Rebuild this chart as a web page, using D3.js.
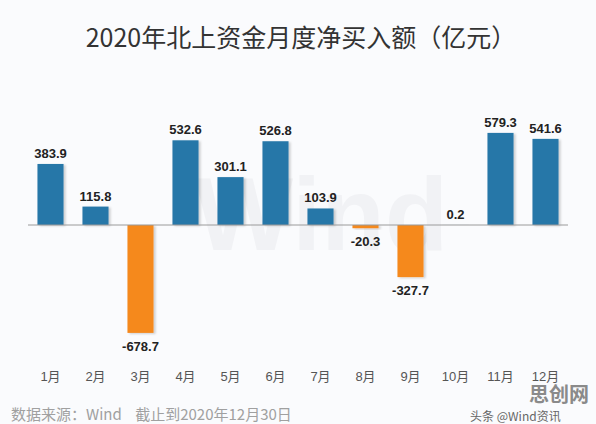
<!DOCTYPE html>
<html>
<head>
<meta charset="utf-8">
<script src="https://cdn.jsdelivr.net/npm/d3@7"></script>
<style>
  html, body { margin: 0; padding: 0; background: #fafbfd; }
  svg { display: block; font-family: "Liberation Sans", Arial, "Noto Sans CJK SC", sans-serif; }
</style>
</head>
<body>
<svg class="chart" width="596" height="424"></svg>
<script>
var months = ['1月', '2月', '3月', '4月', '5月', '6月', '7月', '8月', '9月', '10月', '11月', '12月'];
var netBuy = [383.9, 115.8, -678.7, 532.6, 301.1, 526.8, 103.9, -20.3, -327.7, 0.2, 579.3, 541.6];

var baseY = 225;
var pxPerUnit = 0.159;
var blueColor = '#2677a8';
var orangeColor = '#f5891e';
var labelColor = '#222';

var svg = d3.select('.chart');

var xScale = d3.scaleBand()
    .domain(months)
    .range([28, 568])
    .paddingInner(0.42)
    .paddingOuter(0.21);

var yScale = d3.scaleLinear()
    .domain([-700, 600])
    .range([baseY + 700 * pxPerUnit, baseY - 600 * pxPerUnit]);

var data = months.map(function(m, i) {
    return { month: m, value: netBuy[i] };
});

// soft shadow on bars
var defs = svg.append('defs');
var filter = defs.append('filter')
    .attr('id', 'shadow')
    .attr('x', '-20%').attr('y', '-20%')
    .attr('width', '150%').attr('height', '150%');
filter.append('feDropShadow')
    .attr('dx', 2).attr('dy', 1)
    .attr('stdDeviation', 1.2)
    .attr('flood-color', '#000')
    .attr('flood-opacity', 0.18);

// faint watermark behind the bars
svg.append('text')
    .attr('x', 195)
    .attr('y', 250)
    .style('font-size', '104px')
    .style('font-weight', 'bold')
    .style('fill', '#f1f2f5')
    .text('Wind');

// title
svg.append('text')
    .attr('x', 301)
    .attr('y', 47)
    .attr('text-anchor', 'middle')
    .style('font-family', '"Noto Sans CJK SC", sans-serif')
    .style('font-size', '25px')
    .style('fill', '#333')
    .text('2020年北上资金月度净买入额（亿元）');

// bars
svg.append('g')
    .selectAll('rect')
    .data(data)
    .join('rect')
    .attr('x', function(d) { return xScale(d.month); })
    .attr('y', function(d) { return yScale(Math.max(0, d.value)); })
    .attr('width', xScale.bandwidth())
    .attr('height', function(d) {
        return Math.abs(yScale(d.value) - yScale(0));
    })
    .attr('filter', 'url(#shadow)')
    .style('fill', function(d) { return d.value >= 0 ? blueColor : orangeColor; });

// zero line
svg.append('line')
    .attr('x1', 28)
    .attr('x2', 568)
    .attr('y1', yScale(0))
    .attr('y2', yScale(0))
    .style('stroke', '#9a9a9a')
    .style('stroke-width', 1);

// value labels
svg.append('g')
    .selectAll('text')
    .data(data)
    .join('text')
    .attr('x', function(d) { return xScale(d.month) + xScale.bandwidth() / 2; })
    .attr('y', function(d) {
        return d.value >= 0 ? yScale(d.value) - 6 : yScale(d.value) + 18;
    })
    .attr('text-anchor', 'middle')
    .style('font-size', '13px')
    .style('font-weight', 'bold')
    .style('fill', labelColor)
    .text(function(d) { return d.value.toFixed(1); });

// month axis labels
var axis = d3.axisBottom(xScale).tickSize(0).tickPadding(0);
var axisG = svg.append('g')
    .attr('transform', 'translate(0, 368)')
    .call(axis);
axisG.select('.domain').remove();
axisG.selectAll('text')
    .attr('dy', '1em')
    .style('font-family', '"Liberation Sans", Arial, "Noto Sans CJK SC", sans-serif')
    .style('font-size', '13px')
    .style('fill', '#555');

// source note
svg.append('text')
    .attr('x', 11)
    .attr('y', 420)
    .style('font-family', '"Noto Sans CJK SC", sans-serif')
    .style('font-size', '15px')
    .style('white-space', 'pre')
    .style('fill', '#a0a0a0')
    .text('数据来源：Wind    截止到2020年12月30日');

// site marks at bottom right
svg.append('text')
    .attr('x', 589)
    .attr('y', 402)
    .attr('text-anchor', 'end')
    .style('font-family', '"Noto Sans CJK SC", sans-serif')
    .style('font-size', '20px')
    .style('font-weight', 'bold')
    .style('fill', '#8a8a8a')
    .text('思创网');

svg.append('text')
    .attr('x', 470)
    .attr('y', 421)
    .style('font-family', '"Noto Sans CJK SC", sans-serif')
    .style('font-size', '12px')
    .style('fill', '#666')
    .text('头条 @Wind资讯');
</script>
</body>
</html>
